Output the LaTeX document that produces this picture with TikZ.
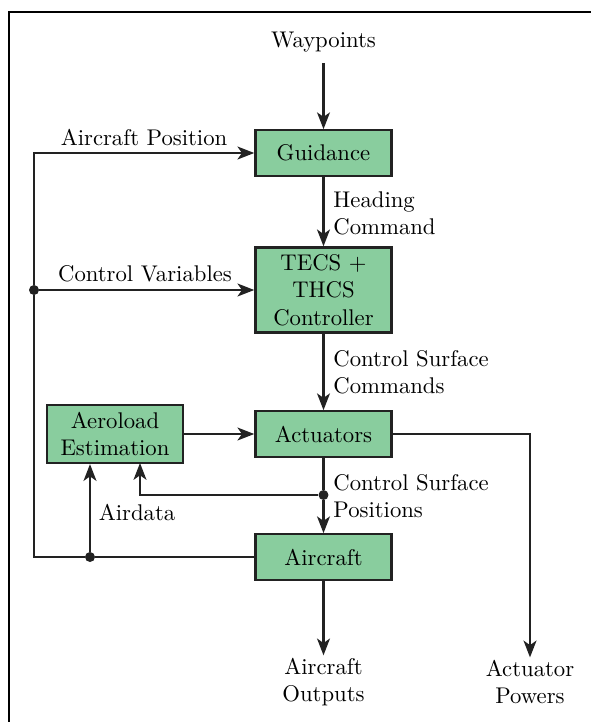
\documentclass[tikz,border=0pt]{standalone}
\usetikzlibrary{arrows.meta}
\definecolor{boxgreen}{RGB}{137,205,158}
\definecolor{linegray}{RGB}{34,34,34}
\tikzset{
  block/.style={draw=linegray, line width=1pt, fill=boxgreen, minimum width=60pt, minimum height=20pt, inner sep=2pt, align=center},
  sig/.style={draw=linegray, line width=0.95pt, -{Stealth[length=2.6mm, width=2mm, inset=0.7mm]}},
  wire/.style={draw=linegray, line width=0.95pt},
  lbl/.style={anchor=west, align=left, inner sep=0pt},
  dot/.style={circle, fill=linegray, inner sep=0pt, minimum size=4.4pt}
}
\begin{document}
\begin{tikzpicture} [x=0.4405pt, y=-0.4405pt]
\useasboundingbox (0,0) rectangle (590,722);
\draw[line width=1pt] (9,760) -- (9,12) -- (640,12); % frame

% blocks
\node[block] (guid) at (323.5,153) {Guidance};
\node[block, minimum height=37.5pt] (tecs) at (323.5,290) {TECS +\\THCS\\Controller};
\node[block] (act) at (323.5,434) {Actuators};
\node[block, minimum height=25.5pt] (aero) at (115,434) {Aeroload\\Estimation};
\node[block] (ac) at (323.5,557) {Aircraft};

% inputs / outputs
\node[inner sep=1pt] (wp) at (323.5,42) {Waypoints};
\node[align=center, inner sep=1pt] (out) at (323.5,682) {Aircraft\\Outputs};
\node[align=center, inner sep=1pt] (pow) at (530,682) {Actuator\\Powers};

\coordinate (fb) at (34,557);
\node[dot] (d1) at (34,290) {};
\node[dot] (d2) at (90,557) {};
\node[dot] (d3) at (323.5,495) {};

\draw[sig] (wp.south) ++(0,8) -- (guid.north);
\draw[sig] (guid) -- (tecs);
\draw[sig] (tecs) -- (act);
\draw[wire] (act) -- (d3);
\draw[sig] (d3) -- (ac);
\draw[sig] (ac) -- (out);
\draw[sig] (act.east) -| (pow.north);
\draw[sig] (aero) -- (act);
\draw[sig] (d3) -| (140,463);

% feedback
\draw[wire] (ac.west) -- (d2) -- (fb) -- (d1);
\draw[sig] (d1) |- (guid.west);
\draw[sig] (d1) -- (tecs.west);
\draw[sig] (d2) -- (d2 |- aero.south);

% labels
\node at (144,137) {Aircraft Position};
\node at (145,274) {Control Variables};
\node at (137,512) {Airdata};
\node[lbl] at (333,213) {Heading\\Command};
\node[lbl] at (333,372) {Control Surface\\Commands};
\node[lbl] at (333,496) {Control Surface\\Positions};
\end{tikzpicture}
\end{document}
